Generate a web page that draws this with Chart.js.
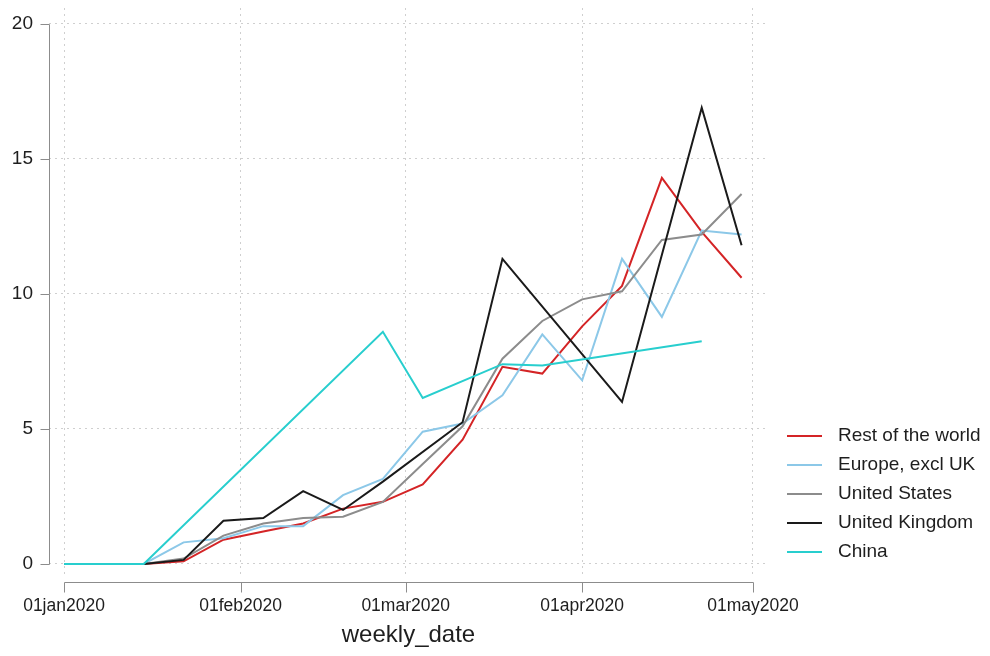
<!DOCTYPE html>
<html>
<head>
<meta charset="utf-8">
<title>weekly_date</title>
<script src="https://cdn.jsdelivr.net/npm/chart.js@4.4.1/dist/chart.umd.min.js"></script>
<style>
  html, body { margin: 0; padding: 0; background: #fff; }
</style>
</head>
<body>
<canvas id="weekly" width="990" height="656"></canvas>
<script>
// weekly observations (Stata weekly dates, week start)
const weekDates = ['2020-01-01', '2020-01-08', '2020-01-15', '2020-01-22', '2020-01-29',
  '2020-02-05', '2020-02-12', '2020-02-19', '2020-02-26', '2020-03-04', '2020-03-11',
  '2020-03-18', '2020-03-25', '2020-04-01', '2020-04-08', '2020-04-15', '2020-04-22', '2020-04-29'];

const restOfWorld = [0, 0, 0, 0.1, 0.9, 1.2, 1.5, 2.05, 2.3, 2.95, 4.6, 7.3, 7.05, 8.8, 10.3, 14.3, 12.3, 10.6];
const europeExUK = [0, 0, 0, 0.8, 0.95, 1.4, 1.4, 2.55, 3.15, 4.9, 5.2, 6.25, 8.5, 6.8, 11.3, 9.15, 12.35, 12.2];
const unitedStates = [0, 0, 0, 0.2, 1.05, 1.5, 1.7, 1.75, 2.3, 3.7, 5.1, 7.6, 9.0, 9.8, 10.1, 12.0, 12.2, 13.7];
// missing weeks are null, joined across like Stata does
const unitedKingdom = [0, 0, 0, 0.15, 1.6, 1.7, 2.7, 2.0, 3.05, null, 5.25, 11.3, null, null, 6.0, null, 16.9, 11.8];
const china = [0, 0, 0, null, null, null, null, null, 8.6, 6.15, null, 7.4, 7.35, null, null, null, 8.25, null];

const seriesNames = ['Rest of the world', 'Europe, excl UK', 'United States', 'United Kingdom', 'China'];

const tickDates = ['2020-01-01', '2020-02-01', '2020-03-01', '2020-04-01', '2020-05-01'];
const tickLabels = ['01jan2020', '01feb2020', '01mar2020', '01apr2020', '01may2020'];
const yTicks = [0, 5, 10, 15, 20];

// days since 01jan2020
function dayNum(s) {
  const p = s.split('-').map(Number);
  return (Date.UTC(p[0], p[1] - 1, p[2]) - Date.UTC(2020, 0, 1)) / 86400000;
}
const tickDays = tickDates.map(dayNum);

function toPoints(vals) {
  return weekDates.map((d, i) => ({ x: dayNum(d), y: vals[i] }));
}

const FONT = "'Liberation Sans', Arial, sans-serif";

// Stata style axes (lines only over the tick range) and legend
const stataAxes = {
  id: 'stataAxes',
  afterDraw(chart) {
    const { ctx, chartArea, scales: { x, y } } = chart;
    ctx.save();
    ctx.strokeStyle = '#8c8c8c';
    ctx.lineWidth = 1;
    ctx.beginPath();
    const ax = chartArea.left + 0.5;
    const yTop = Math.round(y.getPixelForValue(yTicks[yTicks.length - 1])) + 0.5;
    const yBot = Math.round(y.getPixelForValue(yTicks[0])) + 0.5;
    ctx.moveTo(ax, yTop);
    ctx.lineTo(ax, yBot);
    yTicks.forEach(v => {
      const p = Math.round(y.getPixelForValue(v)) + 0.5;
      ctx.moveTo(ax - 9, p);
      ctx.lineTo(ax, p);
    });
    const ay = chartArea.bottom + 4.5;
    const xs = tickDays.map(d => Math.round(x.getPixelForValue(d)) + 0.5);
    ctx.moveTo(xs[0], ay);
    ctx.lineTo(xs[xs.length - 1], ay);
    xs.forEach(p => {
      ctx.moveTo(p, ay);
      ctx.lineTo(p, ay + 10);
    });
    ctx.stroke();

    // legend
    const lx = chartArea.right + 19;
    ctx.font = '19px ' + FONT;
    ctx.textBaseline = 'middle';
    ctx.textAlign = 'left';
    chart.data.datasets.forEach((ds, i) => {
      const ly = 436 + i * 29;
      ctx.strokeStyle = ds.borderColor;
      ctx.lineWidth = 2;
      ctx.beginPath();
      ctx.moveTo(lx, ly);
      ctx.lineTo(lx + 35, ly);
      ctx.stroke();
      ctx.fillStyle = '#1e1e1e';
      ctx.fillText(ds.label, lx + 51, ly);
    });
    ctx.restore();
  }
};

function series(i, vals, color, order) {
  return {
    label: seriesNames[i],
    data: toPoints(vals),
    borderColor: color,
    backgroundColor: color,
    borderWidth: 2,
    pointRadius: 0,
    tension: 0,
    spanGaps: true,
    order: order
  };
}

// tick labels must not push the plot region in
function noLabelPadding(s) {
  s.paddingTop = 0;
  s.paddingBottom = 0;
  s.paddingLeft = 0;
  s.paddingRight = 0;
}

new Chart(document.getElementById('weekly'), {
  type: 'line',
  data: {
    datasets: [
      series(0, restOfWorld, 'rgb(212, 36, 38)', 5),
      series(1, europeExUK, 'rgb(140, 200, 232)', 4),
      series(2, unitedStates, 'rgb(140, 140, 140)', 3),
      series(3, unitedKingdom, 'rgb(26, 26, 26)', 2),
      series(4, china, 'rgb(40, 206, 206)', 1)
    ]
  },
  options: {
    responsive: false,
    animation: false,
    devicePixelRatio: 1,
    layout: { padding: { top: 8, right: 222, left: 0, bottom: 0 } },
    plugins: {
      legend: { display: false },
      tooltip: { enabled: false }
    },
    scales: {
      x: {
        type: 'linear',
        min: -2.64,
        max: 123.64,
        afterBuildTicks: s => { s.ticks = tickDays.map(v => ({ value: v })); },
        afterFit: s => { s.height = 78; noLabelPadding(s); },
        grid: { color: '#cfcfcf', lineWidth: 1, drawTicks: false },
        border: { display: false, dash: [2, 4] },
        ticks: {
          padding: 18,
          maxRotation: 0,
          autoSkip: false,
          color: '#1e1e1e',
          font: { family: FONT, size: 17.5 },
          callback: v => tickLabels[tickDays.indexOf(v)]
        },
        title: {
          display: true,
          text: 'weekly_date',
          color: '#1e1e1e',
          font: { family: FONT, size: 24 },
          padding: { top: 0, bottom: 6 }
        }
      },
      y: {
        min: -0.52,
        max: 20.59,
        afterBuildTicks: s => { s.ticks = yTicks.map(v => ({ value: v })); },
        afterFit: s => { s.width = 49; noLabelPadding(s); },
        grid: { color: '#cfcfcf', lineWidth: 1, drawTicks: false },
        border: { display: false, dash: [2, 4] },
        ticks: {
          padding: 16,
          color: '#1e1e1e',
          font: { family: FONT, size: 19 }
        }
      }
    }
  },
  plugins: [stataAxes]
});
</script>
</body>
</html>
